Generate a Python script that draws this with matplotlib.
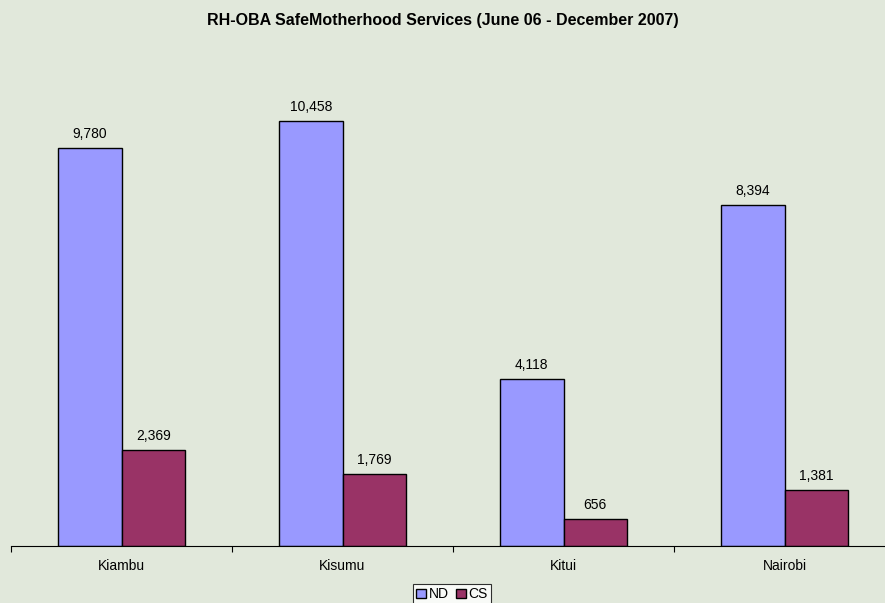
import matplotlib.pyplot as plt
import numpy as np

districts = ['Kiambu', 'Kisumu', 'Kitui', 'Nairobi']
nd_values = [9780, 10458, 4118, 8394]
cs_values = [2369, 1769, 656, 1381]

bg = '#E1E8DB'
W, H = 885, 603
font = 'Liberation Sans'

fig = plt.figure(figsize=(W / 100, H / 100), dpi=100, facecolor=bg)
ax = fig.add_axes([11 / W, (H - 546) / H, 884 / W, 488 / H])
ax.patch.set_visible(False)

x = np.arange(len(districts))
bw = 0.2875
b1 = ax.bar(x - bw / 2, nd_values, bw, color='#9999FF', edgecolor='black',
            linewidth=1, label='ND')
b2 = ax.bar(x + bw / 2, cs_values, bw, color='#993366', edgecolor='black',
            linewidth=1, label='CS')

# value labels above each bar
for bars in (b1, b2):
    for rect in bars:
        h = rect.get_height()
        ax.annotate(f'{int(h):,}', (rect.get_x() + rect.get_width() / 2, h),
                    xytext=(0, 5), textcoords='offset points',
                    ha='center', va='bottom', fontsize=10, family=font)

ax.set_xlim(-0.5, len(districts) - 0.5)
ax.set_ylim(0, 12000)
ax.set_xticks(x)
ax.set_xticklabels(districts, fontsize=10, family=font)
ax.set_xticks(np.arange(len(districts) + 1) - 0.5, minor=True)
ax.tick_params(axis='x', which='major', length=0, pad=9)
ax.tick_params(axis='x', which='minor', length=4, width=0.8, direction='out')
ax.set_yticks([])
for s in ('top', 'right', 'left'):
    ax.spines[s].set_visible(False)
ax.spines['bottom'].set_linewidth(0.8)

fig.text(0.5, 1 - 21 / H, 'RH-OBA SafeMotherhood Services (June 06 - December 2007)',
         ha='center', va='center', fontsize=11.5, fontweight='bold', family=font)

leg = fig.legend(loc='upper center', bbox_to_anchor=(452 / W, 1 - 584 / H), ncol=2,
                 frameon=True, fancybox=False, edgecolor='black',
                 facecolor='white', handlelength=0.7, handleheight=0.7,
                 handletextpad=0.2, columnspacing=0.5, borderpad=0.25,
                 borderaxespad=0, prop={'family': font, 'size': 10})
leg.get_frame().set_linewidth(0.8)

fig.savefig('out.png', dpi=100, facecolor=bg)
